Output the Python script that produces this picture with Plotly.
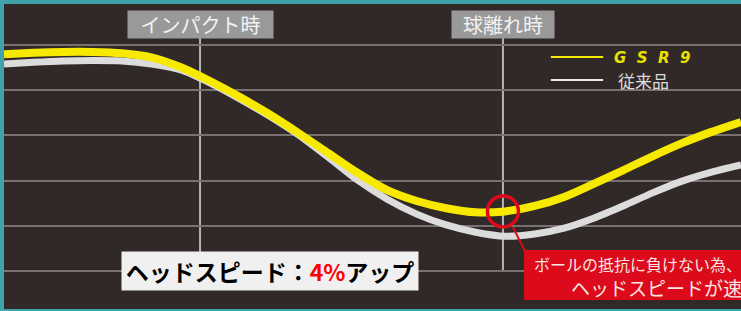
import plotly.graph_objects as go

# time axis (arbitrary units, 0..100)
time = [0, 4, 8, 12, 16, 20, 24, 28, 32, 36, 40, 44, 48, 52, 56, 60,
        64, 68, 72, 76, 80, 84, 88, 92, 96, 100]
# head speed (relative units, gridline = 1)
gsr9 = [4.80, 4.83, 4.85, 4.85, 4.82, 4.73, 4.51, 4.20, 3.85, 3.47, 3.05,
        2.61, 2.17, 1.79, 1.55, 1.39, 1.30, 1.32, 1.44, 1.64, 1.93, 2.23,
        2.54, 2.83, 3.08, 3.30]
conventional = [4.58, 4.62, 4.65, 4.66, 4.65, 4.58, 4.45, 4.16, 3.81, 3.43,
                3.01, 2.52, 2.01, 1.59, 1.26, 1.02, 0.86, 0.77, 0.82, 0.95,
                1.17, 1.44, 1.73, 1.99, 2.19, 2.35]

series_names = ["GSR9", "従来品"]
impact_time = 26.6
release_time = 67.7
impact_label = "インパクト時"
release_label = "球離れ時"
callout_line1 = "ボールの抵抗に負けない為、"
callout_line2 = "ヘッドスピードが速"
headline = "ヘッドスピード："
headline_value = "4%"
headline_tail = "アップ"

JP = "Noto Sans CJK JP"
BG = "#312927"
YELLOW = "#f7ea00"
GRAY = "#dcdcdc"
RED = "#dc0a1a"

fig = go.Figure()
fig.add_trace(go.Scatter(x=time, y=conventional, mode="lines", name=series_names[1],
                         line=dict(color=GRAY, width=7, shape="spline", smoothing=0.8),
                         showlegend=False, hoverinfo="skip"))
fig.add_trace(go.Scatter(x=time, y=gsr9, mode="lines", name=series_names[0],
                         line=dict(color=YELLOW, width=8, shape="spline", smoothing=0.8),
                         showlegend=False, hoverinfo="skip"))

shapes = []
# event vertical lines
for t in (impact_time, release_time):
    shapes.append(dict(type="line", xref="x", yref="y", x0=t, x1=t, y0=0, y1=5.6,
                       line=dict(color="#b4b4b4", width=2), layer="below"))

# red circle at release on GSR9 curve
rel_y = gsr9[time.index(68)]
shapes.append(dict(type="circle", xref="x", yref="y", xsizemode="pixel", ysizemode="pixel",
                   xanchor=release_time, yanchor=rel_y, x0=-15.5, x1=15.5, y0=-15.5, y1=15.5,
                   line=dict(color=RED, width=3.5), layer="above"))
# pointer line
shapes.append(dict(type="line", xref="x", yref="y", x0=69.06, y0=0.97, x1=70.69, y1=0.44,
                   line=dict(color=RED, width=2)))
# red callout box
shapes.append(dict(type="rect", xref="x", yref="y", x0=70.56, x1=101, y0=-0.64, y1=0.465,
                   fillcolor=RED, line=dict(width=0), layer="above"))
# legend line samples
shapes.append(dict(type="line", xref="paper", yref="paper", x0=0.742, x1=0.813, y0=0.826, y1=0.826,
                   line=dict(color=YELLOW, width=2)))
shapes.append(dict(type="line", xref="paper", yref="paper", x0=0.742, x1=0.813, y0=0.751, y1=0.751,
                   line=dict(color="#e8e8e8", width=2)))

annotations = [
    dict(text=impact_label, x=impact_time, xref="x", y=1, yref="paper", yanchor="top",
         yshift=-6, showarrow=False, bgcolor="#999999", width=145, height=27, borderpad=0,
         font=dict(family=JP, size=20, color="#f2f2f2")),
    dict(text=release_label, x=release_time, xref="x", y=1, yref="paper", yanchor="top",
         yshift=-6, showarrow=False, bgcolor="#999999", width=102, height=27, borderpad=0,
         font=dict(family=JP, size=20, color="#f2f2f2")),
    dict(text="G&nbsp;&nbsp;S&nbsp;&nbsp;R&nbsp;&nbsp;9", x=0.825, xref="paper", y=0.823, yref="paper",
         xanchor="left", yanchor="middle", showarrow=False,
         font=dict(family="DejaVu Sans", size=15, color="#e8e000", weight="bold", style="italic")),
    dict(text=series_names[1], x=0.83, xref="paper", y=0.748, yref="paper",
         xanchor="left", yanchor="middle", showarrow=False,
         font=dict(family=JP, size=17, color="#dddddd")),
    dict(text="<b>" + headline + "<span style='color:#ff0000'>" + headline_value + "</span>"
              + headline_tail + "</b>",
         x=0.361, xref="paper", y=0.1246, yref="paper", xanchor="center", yanchor="middle",
         showarrow=False, bgcolor="#f0f0f0", width=296, height=38, borderpad=0,
         font=dict(family=JP, size=23, color="#000000")),
    dict(text=callout_line1, x=0.7164, xref="paper", y=0.1475, yref="paper",
         xanchor="left", yanchor="middle", showarrow=False,
         font=dict(family=JP, size=16, color="#f8e4e4")),
    dict(text=callout_line2, x=0.7666, xref="paper", y=0.0721, yref="paper",
         xanchor="left", yanchor="middle", showarrow=False,
         font=dict(family=JP, size=19, color="#f8e4e4")),
]

fig.update_layout(
    width=741, height=311,
    margin=dict(l=4, r=0, t=4, b=2),
    paper_bgcolor="#40a2aa",
    plot_bgcolor=BG,
    xaxis=dict(range=[0, 100], showgrid=False, zeroline=False, showticklabels=False,
               showline=False, fixedrange=True),
    yaxis=dict(range=[-0.84, 5.91], tick0=0, dtick=1, showgrid=True, gridcolor="#787170",
               gridwidth=2, zeroline=False, showticklabels=False, showline=False, fixedrange=True),
    shapes=shapes,
    annotations=annotations,
    hovermode=False,
    showlegend=False,
)

fig.write_html("out.html", config={"displayModeBar": False},
               post_script="document.body.style.margin='0';document.body.style.overflow='hidden';")
